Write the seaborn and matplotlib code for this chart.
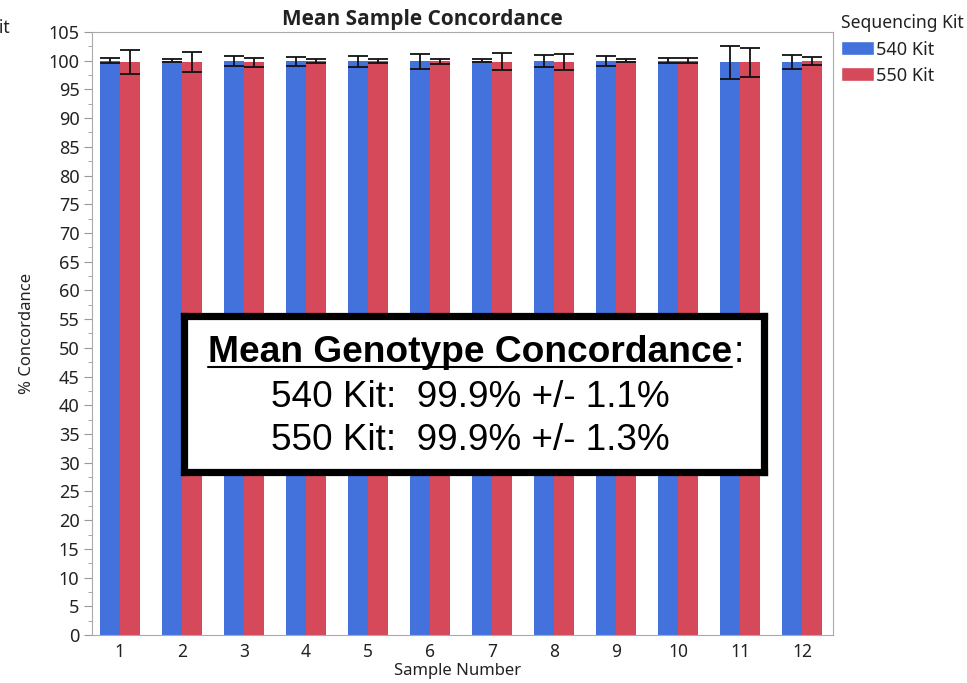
import pandas as pd
import matplotlib
matplotlib.use("Agg")
import matplotlib.pyplot as plt
import seaborn as sns
from matplotlib.patches import Patch
from matplotlib.ticker import MultipleLocator

samples = [str(i) for i in range(1, 13)]
mean_540 = [100.0, 100.0, 99.9, 99.9, 99.9, 99.9, 100.0, 99.9, 99.9, 100.0, 99.7, 99.8]
err_540 = [0.44, 0.3, 0.87, 0.75, 1.0, 1.33, 0.23, 1.05, 0.87, 0.46, 2.8, 1.27]
mean_550 = [99.8, 99.8, 99.7, 100.0, 100.0, 99.9, 99.8, 99.8, 100.0, 100.0, 99.7, 100.0]
err_550 = [2.1, 1.75, 0.78, 0.37, 0.37, 0.43, 1.5, 1.45, 0.23, 0.4, 2.6, 0.7]
kits = ["540 Kit", "550 Kit"]
colors = ["#4372DD", "#D5495B"]

df = pd.DataFrame({
    "sample": samples * 2,
    "kit": [kits[0]] * 12 + [kits[1]] * 12,
    "mean": mean_540 + mean_550,
    "err": err_540 + err_550,
})

sns.set_style("white")
plt.rcParams["font.family"] = ["Noto Sans", "DejaVu Sans"]
plt.rcParams["text.color"] = "#222222"

fig = plt.figure(figsize=(9.67, 6.83), dpi=100)
ax = fig.add_axes([92 / 967, 1 - 635 / 683, (833 - 92) / 967, (635 - 32) / 683])

sns.barplot(data=df, x="sample", y="mean", hue="kit", palette=colors,
            errorbar=None, width=0.65, gap=0, saturation=1, legend=False,
            linewidth=0, ax=ax)

# error bars on the bar centres seaborn placed
for cont, kit in zip(ax.containers, kits):
    sub = df[df["kit"] == kit]
    xs = [p.get_x() + p.get_width() / 2 for p in cont.patches]
    ax.errorbar(xs, sub["mean"], yerr=sub["err"], fmt="none", ecolor="#111111",
                elinewidth=1.3, capsize=7, capthick=1.3, zorder=5)

ax.set_xlim(-0.45, 11.5)
ax.set_ylim(0, 105)
ax.yaxis.set_major_locator(MultipleLocator(5))
ax.yaxis.set_minor_locator(MultipleLocator(2.5))
ax.tick_params(axis="y", which="major", length=6, color="#999999",
               labelsize=13, labelcolor="#222222", direction="out", left=True, pad=3)
ax.tick_params(axis="y", which="minor", length=3, color="#999999", left=True)
ax.tick_params(axis="x", length=0, labelsize=12.5, labelcolor="#222222", pad=6)
for s in ax.spines.values():
    s.set_color("#aaaaaa")
ax.set_xlabel("Sample Number", fontsize=12, color="#222222")
ax.xaxis.set_label_coords((458 - 92) / 741, -(663 - 635) / 603)
ax.set_ylabel("% Concordance", fontsize=12, color="#222222", labelpad=10)
ax.set_title("Mean Sample Concordance", fontsize=15, fontweight="bold",
             family=["Open Sans", "DejaVu Sans"], x=(422 - 92) / 741, pad=5)

handles = [Patch(facecolor=c, label=k) for c, k in zip(colors, kits)]
fig.legend(handles=handles, title="Sequencing Kit", loc="upper left",
           bbox_to_anchor=(836 / 967, 1 - 9 / 683), frameon=False, fontsize=13,
           title_fontsize=12.6, alignment="left", handlelength=1.8, handleheight=0.8,
           handletextpad=0.1, labelspacing=0.45, borderaxespad=0, borderpad=0.3)

fig.text(10 / 967, 1 - 28 / 683, "Kit", ha="right", va="center", fontsize=12.6, color="#222222")

# annotation box (outer edge 180-767 x 312-475 px, 7 px border)
bx0, bx1, by0, by1 = 183.5, 763.5, 315.5, 471.5
box_ax = fig.add_axes([bx0 / 967, 1 - by1 / 683, (bx1 - bx0) / 967, (by1 - by0) / 683])
box_ax.set_xticks([])
box_ax.set_yticks([])
box_ax.set_facecolor("white")
for s in box_ax.spines.values():
    s.set_color("black")
    s.set_linewidth(5.2)
box_ax.set_xlim(0, 1)
box_ax.set_ylim(0, 1)


def yb(px):
    return (by1 - px) / (by1 - by0)


cx = (470 - bx0) / (bx1 - bx0)
head = box_ax.text(cx, yb(362), "Mean Genotype Concordance", ha="center",
                   va="baseline", fontsize=26.7, fontweight="bold",
                   family="Liberation Sans", color="black")
box_ax.text(cx, yb(407), "540 Kit:  99.9% +/- 1.1%", ha="center", va="baseline",
            fontsize=26.6, family="Liberation Sans", color="black")
box_ax.text(cx, yb(450), "550 Kit:  99.9% +/- 1.3%", ha="center", va="baseline",
            fontsize=26.6, family="Liberation Sans", color="black")

fig.canvas.draw()
bb = head.get_window_extent().transformed(box_ax.transAxes.inverted())
box_ax.plot([bb.x0, bb.x1], [yb(367), yb(367)], color="black", lw=1.5)
box_ax.text(bb.x1 + 0.002, yb(362), ":", ha="left", va="baseline", fontsize=26.7,
            family="Liberation Sans", color="black")

fig.savefig("out.png", dpi=100)
